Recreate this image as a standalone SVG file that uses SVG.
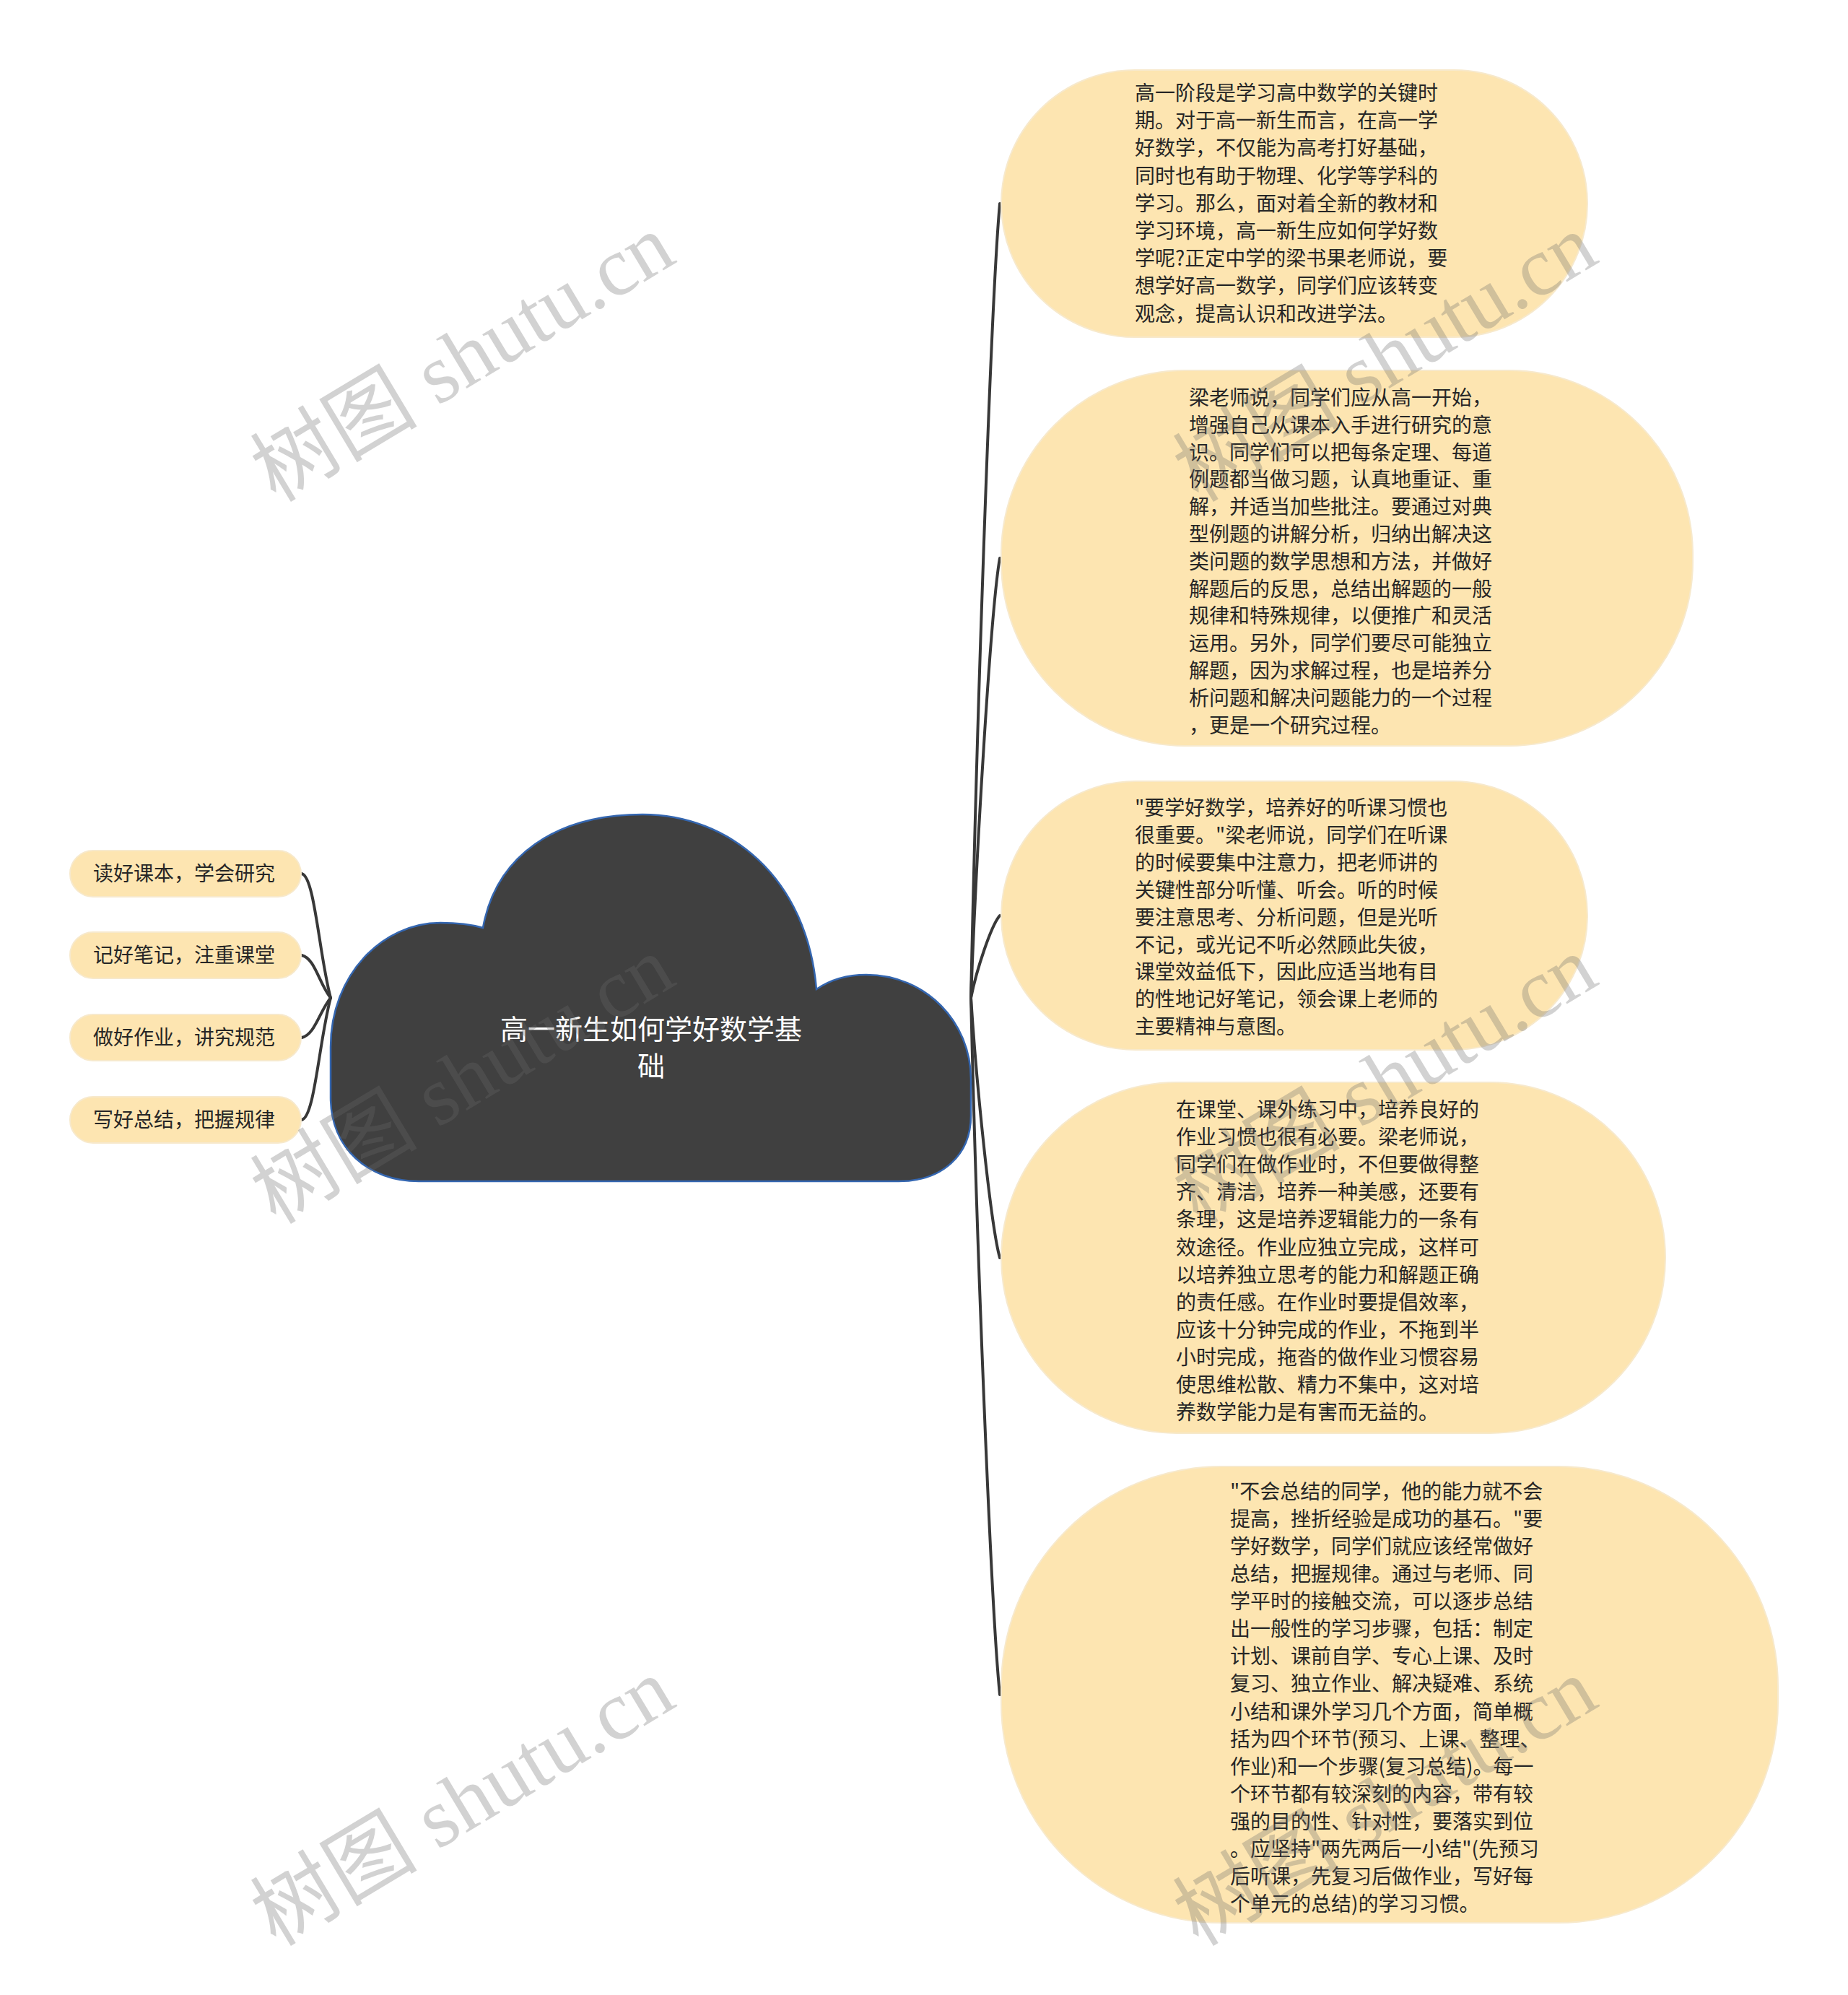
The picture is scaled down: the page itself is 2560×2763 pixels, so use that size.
<svg xmlns="http://www.w3.org/2000/svg" width="2560" height="2763" viewBox="0 0 2560 2763">
<defs>
<style>
.bg{fill:#ffffff}
.topic{fill:#fde5b1;stroke:#f7e9cc;stroke-width:2}
.txt{font-family:"Noto Sans CJK SC","Noto Sans",sans-serif;font-size:28px;fill:#262626}
.pilltxt{font-family:"Noto Sans CJK SC","Noto Sans",sans-serif;font-size:28px;fill:#262626;text-anchor:middle}
.root{fill:#404040;stroke:#3466b0;stroke-width:2.5}
.roottxt{font-family:"Noto Sans CJK SC","Noto Sans",sans-serif;font-size:38px;fill:#ffffff;text-anchor:middle}
.edge{fill:none;stroke:#383838;stroke-width:4;stroke-linecap:round}
.wm{font-family:"Liberation Serif","Noto Sans CJK SC",serif;font-size:116px;fill:#6a6a6a;fill-opacity:0.3}
</style>
</defs>
<rect class="bg" x="0" y="0" width="2560" height="2763"/>

<g id="connectors">
<path class="edge" d="M1345 1382 C1353 997 1373 414 1385 282"/>
<path class="edge" d="M1345 1382 C1353 1169 1373 840 1385 773"/>
<path class="edge" d="M1345 1382 C1353 1342 1373 1282 1385 1268"/>
<path class="edge" d="M1345 1382 C1353 1507 1373 1699 1385 1742"/>
<path class="edge" d="M1345 1382 C1353 1730 1373 2228 1385 2347"/>
<path class="edge" d="M418 1210 C436 1214 442 1322 458 1382"/>
<path class="edge" d="M418 1323 C436 1327 442 1362 458 1382"/>
<path class="edge" d="M418 1437 C436 1433 442 1402 458 1382"/>
<path class="edge" d="M418 1551 C436 1547 442 1442 458 1382"/>
</g>

<g id="root">
<path class="root" d="M580 1636 C510 1636 458 1590 458 1520 L458 1450 C458 1350 530 1278 610 1278 C632 1278 652 1280 669 1285 C687 1185 770 1128 890 1128 C1010 1128 1118 1215 1131 1370 C1150 1357 1175 1350 1200 1350 C1282 1350 1345 1415 1345 1495 L1345 1545 C1345 1600 1305 1636 1245 1636 Z"/>
<text class="roottxt" x="902" y="1439">高一新生如何学好数学基</text>
<text class="roottxt" x="902" y="1490">础</text>
</g>

<g id="left1">
<rect class="topic" x="97" y="1178" width="320" height="64" rx="32" ry="32"/>
<text class="pilltxt" x="255" y="1220">读好课本，学会研究</text>
</g>
<g id="left2">
<rect class="topic" x="97" y="1291" width="320" height="64" rx="32" ry="32"/>
<text class="pilltxt" x="255" y="1333">记好笔记，注重课堂</text>
</g>
<g id="left3">
<rect class="topic" x="97" y="1405" width="320" height="64" rx="32" ry="32"/>
<text class="pilltxt" x="255" y="1447">做好作业，讲究规范</text>
</g>
<g id="left4">
<rect class="topic" x="97" y="1519" width="320" height="64" rx="32" ry="32"/>
<text class="pilltxt" x="255" y="1561">写好总结，把握规律</text>
</g>

<g id="node1">
<rect class="topic" x="1387" y="97" width="812" height="370" rx="185" ry="185"/>
<text class="txt" y="139">
<tspan x="1572">高一阶段是学习高中数学的关键时</tspan>
<tspan x="1572" dy="38.2">期。对于高一新生而言，在高一学</tspan>
<tspan x="1572" dy="38.2">好数学，不仅能为高考打好基础，</tspan>
<tspan x="1572" dy="38.2">同时也有助于物理、化学等学科的</tspan>
<tspan x="1572" dy="38.2">学习。那么，面对着全新的教材和</tspan>
<tspan x="1572" dy="38.2">学习环境，高一新生应如何学好数</tspan>
<tspan x="1572" dy="38.2">学呢?正定中学的梁书果老师说，要</tspan>
<tspan x="1572" dy="38.2">想学好高一数学，同学们应该转变</tspan>
<tspan x="1572" dy="38.2">观念，提高认识和改进学法。</tspan>
</text>
</g>

<g id="node2">
<rect class="topic" x="1387" y="513" width="958" height="520" rx="255" ry="255"/>
<text class="txt" y="561">
<tspan x="1647">梁老师说，同学们应从高一开始，</tspan>
<tspan x="1647" dy="37.8">增强自己从课本入手进行研究的意</tspan>
<tspan x="1647" dy="37.8">识。同学们可以把每条定理、每道</tspan>
<tspan x="1647" dy="37.8">例题都当做习题，认真地重证、重</tspan>
<tspan x="1647" dy="37.8">解，并适当加些批注。要通过对典</tspan>
<tspan x="1647" dy="37.8">型例题的讲解分析，归纳出解决这</tspan>
<tspan x="1647" dy="37.8">类问题的数学思想和方法，并做好</tspan>
<tspan x="1647" dy="37.8">解题后的反思，总结出解题的一般</tspan>
<tspan x="1647" dy="37.8">规律和特殊规律，以便推广和灵活</tspan>
<tspan x="1647" dy="37.8">运用。另外，同学们要尽可能独立</tspan>
<tspan x="1647" dy="37.8">解题，因为求解过程，也是培养分</tspan>
<tspan x="1647" dy="37.8">析问题和解决问题能力的一个过程</tspan>
<tspan x="1647" dy="37.8">，更是一个研究过程。</tspan>
</text>
</g>

<g id="node3">
<rect class="topic" x="1387" y="1082" width="812" height="372" rx="186" ry="186"/>
<text class="txt" y="1129">
<tspan x="1572">"要学好数学，培养好的听课习惯也</tspan>
<tspan x="1572" dy="37.9">很重要。"梁老师说，同学们在听课</tspan>
<tspan x="1572" dy="37.9">的时候要集中注意力，把老师讲的</tspan>
<tspan x="1572" dy="37.9">关键性部分听懂、听会。听的时候</tspan>
<tspan x="1572" dy="37.9">要注意思考、分析问题，但是光听</tspan>
<tspan x="1572" dy="37.9">不记，或光记不听必然顾此失彼，</tspan>
<tspan x="1572" dy="37.9">课堂效益低下，因此应适当地有目</tspan>
<tspan x="1572" dy="37.9">的性地记好笔记，领会课上老师的</tspan>
<tspan x="1572" dy="37.9">主要精神与意图。</tspan>
</text>
</g>

<g id="node4">
<rect class="topic" x="1387" y="1499" width="920" height="486" rx="243" ry="243"/>
<text class="txt" y="1547">
<tspan x="1629">在课堂、课外练习中，培养良好的</tspan>
<tspan x="1629" dy="38.1">作业习惯也很有必要。梁老师说，</tspan>
<tspan x="1629" dy="38.1">同学们在做作业时，不但要做得整</tspan>
<tspan x="1629" dy="38.1">齐、清洁，培养一种美感，还要有</tspan>
<tspan x="1629" dy="38.1">条理，这是培养逻辑能力的一条有</tspan>
<tspan x="1629" dy="38.1">效途径。作业应独立完成，这样可</tspan>
<tspan x="1629" dy="38.1">以培养独立思考的能力和解题正确</tspan>
<tspan x="1629" dy="38.1">的责任感。在作业时要提倡效率，</tspan>
<tspan x="1629" dy="38.1">应该十分钟完成的作业，不拖到半</tspan>
<tspan x="1629" dy="38.1">小时完成，拖沓的做作业习惯容易</tspan>
<tspan x="1629" dy="38.1">使思维松散、精力不集中，这对培</tspan>
<tspan x="1629" dy="38.1">养数学能力是有害而无益的。</tspan>
</text>
</g>

<g id="node5">
<rect class="topic" x="1387" y="2031" width="1076" height="632" rx="305" ry="305"/>
<text class="txt" y="2076">
<tspan x="1704">"不会总结的同学，他的能力就不会</tspan>
<tspan x="1704" dy="38.07">提高，挫折经验是成功的基石。"要</tspan>
<tspan x="1704" dy="38.07">学好数学，同学们就应该经常做好</tspan>
<tspan x="1704" dy="38.07">总结，把握规律。通过与老师、同</tspan>
<tspan x="1704" dy="38.07">学平时的接触交流，可以逐步总结</tspan>
<tspan x="1704" dy="38.07">出一般性的学习步骤，包括：制定</tspan>
<tspan x="1704" dy="38.07">计划、课前自学、专心上课、及时</tspan>
<tspan x="1704" dy="38.07">复习、独立作业、解决疑难、系统</tspan>
<tspan x="1704" dy="38.07">小结和课外学习几个方面，简单概</tspan>
<tspan x="1704" dy="38.07">括为四个环节(预习、上课、整理、</tspan>
<tspan x="1704" dy="38.07">作业)和一个步骤(复习总结)。每一</tspan>
<tspan x="1704" dy="38.07">个环节都有较深刻的内容，带有较</tspan>
<tspan x="1704" dy="38.07">强的目的性、针对性，要落实到位</tspan>
<tspan x="1704" dy="38.07">。应坚持"两先两后一小结"(先预习</tspan>
<tspan x="1704" dy="38.07">后听课，先复习后做作业，写好每</tspan>
<tspan x="1704" dy="38.07">个单元的总结)的学习习惯。</tspan>
</text>
</g>

<g id="watermarks">
<text class="wm" transform="translate(382 697) rotate(-31)">树图 shutu.cn</text>
<text class="wm" transform="translate(1660 697) rotate(-31)">树图 shutu.cn</text>
<text class="wm" transform="translate(382 1697) rotate(-31)">树图 shutu.cn</text>
<text class="wm" transform="translate(1660 1697) rotate(-31)">树图 shutu.cn</text>
<text class="wm" transform="translate(382 2697) rotate(-31)">树图 shutu.cn</text>
<text class="wm" transform="translate(1660 2697) rotate(-31)">树图 shutu.cn</text>
</g>
</svg>
